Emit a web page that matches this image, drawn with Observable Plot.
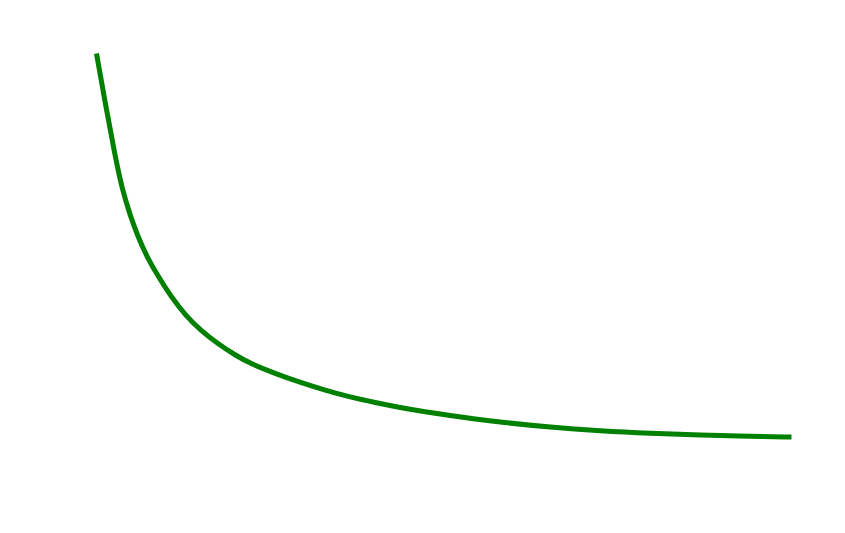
<!DOCTYPE html>
<html>
<head>
<meta charset="utf-8">
<script src="https://cdn.jsdelivr.net/npm/d3@7"></script>
<script src="https://cdn.jsdelivr.net/npm/@observablehq/plot@0.6"></script>
<style>
  html, body { margin: 0; padding: 0; background: #fff; }
</style>
</head>
<body>
<div id="chart"></div>
<script>
const xs = [0, 0.13, 0.26, 0.37, 0.49, 0.59, 0.73, 0.88, 1.06, 1.28, 1.50, 1.74, 2.00, 2.22, 2.58, 2.94, 3.29, 3.65, 4.01, 4.37, 4.73, 5.09, 5.45, 5.81, 6.53, 7.25, 7.97, 8.69, 9.41, 10];
const ys = [100, 86.7, 74.0, 64.5, 57.6, 52.6, 46.9, 42.2, 37.0, 31.8, 27.9, 24.5, 21.4, 19.2, 16.6, 14.3, 12.3, 10.5, 9.1, 7.8, 6.7, 5.7, 4.8, 4.0, 2.66, 1.72, 1.07, 0.6, 0.31, 0.13];

const data = xs.map((x, i) => ({x, y: ys[i]}));

const chart = Plot.plot({
  width: 845,
  height: 533,
  marginLeft: 96,
  marginRight: 54,
  marginTop: 53,
  marginBottom: 96,
  x: {domain: [0, 10], axis: null},
  y: {domain: [0, 100], axis: null},
  marks: [
    Plot.line(data, {x: "x", y: "y", stroke: "#008000", strokeWidth: 5, curve: "basis", strokeLinecap: "butt"})
  ]
});
document.getElementById("chart").appendChild(chart);
</script>
</body>
</html>
